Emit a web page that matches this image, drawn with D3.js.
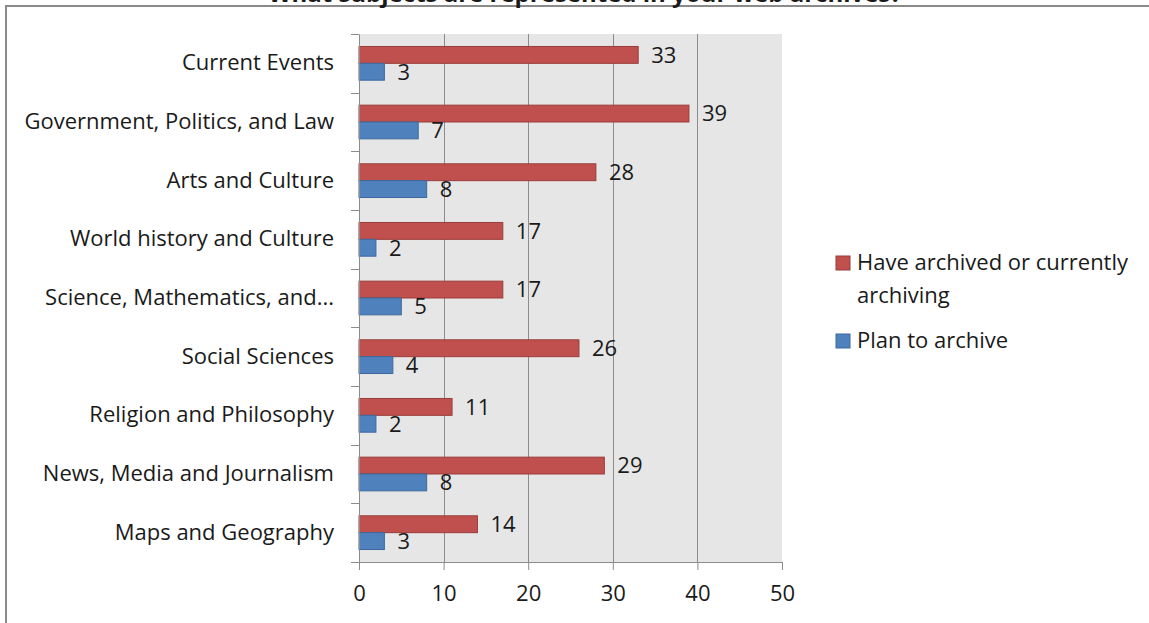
<!DOCTYPE html>
<html>
<head>
<meta charset="utf-8">
<script src="https://cdn.jsdelivr.net/npm/d3@7/dist/d3.min.js"></script>
<style>
  html, body { margin: 0; padding: 0; background: #ffffff; }
  svg { display: block; }
  text { font-family: "Open Sans", "Noto Sans", sans-serif; fill: #1a1a1a; }
</style>
</head>
<body>
<svg id="chart" width="1149" height="623"></svg>
<script>
// Subject categories, top to bottom
const categories = [
  "Current Events",
  "Government, Politics, and Law",
  "Arts and Culture",
  "World history and Culture",
  "Science, Mathematics, and...",
  "Social Sciences",
  "Religion and Philosophy",
  "News, Media and Journalism",
  "Maps and Geography"
];
const archived = [33, 39, 28, 17, 17, 26, 11, 29, 14];
const planned = [3, 7, 8, 2, 5, 4, 2, 8, 3];
const xTicks = [0, 10, 20, 30, 40, 50];
const title = "What subjects are represented in your web archives?";

const colors = { fill: ["#C0504D", "#4F81BD"], stroke: ["#9A3D3A", "#3B6A9F"] };
const FONT = 22;

const svg = d3.select("#chart");
const W = 1149, H = 623;

// outer chart frame (runs past the right and bottom edges)
svg.append("rect")
  .attr("x", 6).attr("y", 6)
  .attr("width", W + 20).attr("height", H + 20)
  .attr("fill", "#ffffff")
  .attr("stroke", "#8a8a8a").attr("stroke-width", 2);

// title sits above the frame
svg.append("text")
  .attr("x", 585).attr("y", 2)
  .attr("text-anchor", "middle")
  .attr("font-size", 24).attr("font-weight", "bold")
  .text(title);

const plot = { left: 359, right: 782, top: 34, bottom: 562 };

const x = d3.scaleLinear().domain([0, 50]).range([plot.left, plot.right]);
const y = d3.scaleBand().domain(categories).range([plot.top, plot.bottom]).padding(0);
const inner = d3.scaleBand().domain([0, 1]).range([0, y.bandwidth()])
  .paddingInner(0).paddingOuter(0.74);

// plot background
svg.append("rect")
  .attr("x", plot.left).attr("y", plot.top)
  .attr("width", plot.right - plot.left).attr("height", plot.bottom - plot.top)
  .attr("fill", "#E6E6E6");

// vertical gridlines
svg.append("g")
  .selectAll("line")
  .data(xTicks.filter(t => t > 0 && t < 50))
  .join("line")
  .attr("x1", d => Math.round(x(d)) + 0.5).attr("x2", d => Math.round(x(d)) + 0.5)
  .attr("y1", plot.top).attr("y2", plot.bottom)
  .attr("stroke", "#8c8c8c").attr("stroke-width", 1);

// bars
const rows = categories.map((c, i) => ({ c, vals: [archived[i], planned[i]] }));
const groups = svg.append("g").selectAll("g")
  .data(rows).join("g")
  .attr("transform", d => `translate(0,${y(d.c)})`);

groups.selectAll("rect")
  .data(d => d.vals.map((v, s) => ({ v, s })))
  .join("rect")
  .attr("x", x(0))
  .attr("y", d => inner(d.s))
  .attr("width", d => x(d.v) - x(0))
  .attr("height", inner.bandwidth())
  .attr("fill", d => colors.fill[d.s])
  .attr("stroke", d => colors.stroke[d.s]).attr("stroke-width", 1);

// value labels
groups.selectAll("text")
  .data(d => d.vals.map((v, s) => ({ v, s })))
  .join("text")
  .attr("x", d => x(d.v) + 13)
  .attr("y", d => inner(d.s) + inner.bandwidth() / 2)
  .attr("dy", "0.36em")
  .attr("font-size", FONT)
  .text(d => d.v);

// category axis
const yAxis = svg.append("g")
  .attr("transform", `translate(${plot.left},0)`)
  .call(d3.axisLeft(y).tickSize(0).tickPadding(25));
yAxis.select(".domain").attr("stroke", "#8c8c8c");
yAxis.selectAll("text").attr("font-size", FONT).attr("fill", "#1a1a1a")
  .attr("font-family", "'Open Sans', 'Noto Sans', sans-serif");
// boundary tick marks between categories
svg.append("g").selectAll("line")
  .data(d3.range(categories.length + 1))
  .join("line")
  .attr("x1", plot.left - 8).attr("x2", plot.left)
  .attr("y1", i => Math.round(plot.top + i * y.step()) + 0.5)
  .attr("y2", i => Math.round(plot.top + i * y.step()) + 0.5)
  .attr("stroke", "#8c8c8c");

// value axis
const xAxis = svg.append("g")
  .attr("transform", `translate(0,${plot.bottom})`)
  .call(d3.axisBottom(x).tickValues(xTicks).tickSize(8).tickPadding(15));
xAxis.select(".domain").attr("stroke", "#8c8c8c").attr("d", `M${plot.left},0.5H${plot.right}`);
xAxis.selectAll(".tick line").attr("stroke", "#8c8c8c");
xAxis.selectAll("text").attr("font-size", FONT).attr("fill", "#1a1a1a")
  .attr("font-family", "'Open Sans', 'Noto Sans', sans-serif");

// legend
const legend = svg.append("g");
const legendItems = [
  { s: 0, lines: ["Have archived or currently", "archiving"], y: 256 },
  { s: 1, lines: ["Plan to archive"], y: 334 }
];
legendItems.forEach(item => {
  legend.append("rect")
    .attr("x", 836).attr("y", item.y)
    .attr("width", 14).attr("height", 14)
    .attr("fill", colors.fill[item.s])
    .attr("stroke", colors.stroke[item.s]);
  item.lines.forEach((ln, k) => {
    legend.append("text")
      .attr("x", 857).attr("y", item.y + 14 + k * 33)
      .attr("font-size", FONT)
      .text(ln);
  });
});
</script>
</body>
</html>
